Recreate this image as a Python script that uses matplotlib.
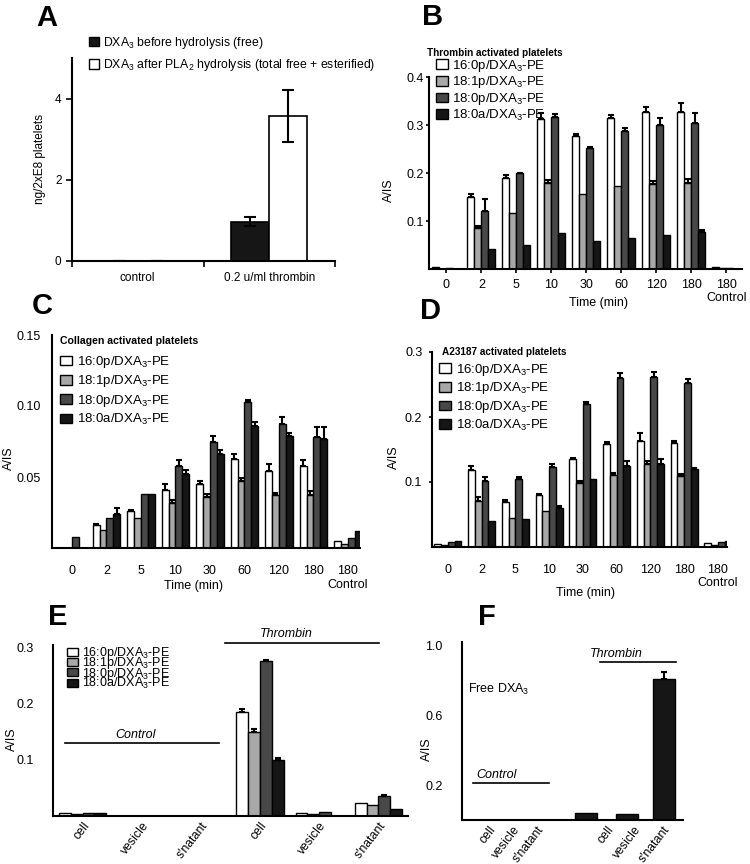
import numpy as np
import matplotlib.pyplot as plt
from matplotlib.patches import Patch

plt.rcParams['font.family'] = ['Liberation Sans', 'DejaVu Sans']
plt.rcParams['mathtext.default'] = 'regular'
plt.rcParams['axes.linewidth'] = 1.5

# ---- data ----
conditions = ['control', '0.2 u/ml thrombin']
a_free = [0, 0.97]
a_free_err = [0, 0.12]
a_total = [0, 3.57]
a_total_err = [0, 0.65]

times = ['0', '2', '5', '10', '30', '60', '120', '180', '180\nControl']
species = ['16:0p/DXA$_3$-PE', '18:1p/DXA$_3$-PE', '18:0p/DXA$_3$-PE', '18:0a/DXA$_3$-PE']

b_16_0p = [0.004, 0.149, 0.190, 0.312, 0.278, 0.314, 0.328, 0.328, 0.005]
b_16_0p_err = [0, 0.007, 0.006, 0.012, 0.004, 0.007, 0.010, 0.018, 0]
b_18_1p = [0.001, 0.085, 0.117, 0.180, 0.156, 0.172, 0.178, 0.180, 0.002]
b_18_1p_err = [0, 0.004, 0, 0.006, 0, 0, 0.005, 0.008, 0]
b_18_0p = [0.003, 0.121, 0.200, 0.316, 0.252, 0.288, 0.300, 0.305, 0.003]
b_18_0p_err = [0, 0.025, 0.001, 0.006, 0.003, 0.005, 0.015, 0.020, 0]
b_18_0a = [0.001, 0.042, 0.050, 0.076, 0.058, 0.064, 0.071, 0.077, 0.001]
b_18_0a_err = [0, 0, 0, 0, 0, 0, 0, 0.005, 0]

c_16_0p = [0, 0.016, 0.026, 0.041, 0.045, 0.063, 0.054, 0.058, 0.005]
c_16_0p_err = [0, 0.001, 0.001, 0.004, 0.002, 0.003, 0.005, 0.004, 0]
c_18_1p = [0, 0.013, 0.021, 0.032, 0.036, 0.047, 0.037, 0.037, 0.003]
c_18_1p_err = [0, 0, 0, 0.002, 0.002, 0.002, 0.002, 0.003, 0]
c_18_0p = [0.008, 0.021, 0.038, 0.058, 0.075, 0.103, 0.087, 0.078, 0.007]
c_18_0p_err = [0, 0, 0, 0.004, 0.004, 0.001, 0.005, 0.007, 0]
c_18_0a = [0, 0.024, 0.038, 0.052, 0.066, 0.086, 0.079, 0.077, 0.012]
c_18_0a_err = [0, 0.004, 0, 0.003, 0.003, 0.003, 0.002, 0.008, 0]

d_16_0p = [0.004, 0.118, 0.070, 0.080, 0.135, 0.158, 0.163, 0.160, 0.006]
d_16_0p_err = [0, 0.007, 0.003, 0.001, 0.002, 0.004, 0.012, 0.003, 0]
d_18_1p = [0.003, 0.071, 0.044, 0.055, 0.099, 0.111, 0.127, 0.110, 0.003]
d_18_1p_err = [0, 0.006, 0, 0, 0.003, 0.003, 0.006, 0.002, 0]
d_18_0p = [0.008, 0.102, 0.105, 0.123, 0.220, 0.260, 0.262, 0.252, 0.008]
d_18_0p_err = [0, 0.006, 0.002, 0.004, 0.003, 0.008, 0.008, 0.006, 0]
d_18_0a = [0.009, 0.040, 0.043, 0.060, 0.105, 0.124, 0.128, 0.120, 0.010]
d_18_0a_err = [0, 0, 0, 0.003, 0, 0.008, 0.008, 0.002, 0]

fractions = ['cell', 'vesicle', "s'natant", 'cell', 'vesicle', "s'natant"]
e_16_0p = [0.005, 0, 0, 0.185, 0.006, 0.024]
e_16_0p_err = [0, 0, 0, 0.006, 0, 0]
e_18_1p = [0.003, 0, 0, 0.149, 0.004, 0.020]
e_18_1p_err = [0, 0, 0, 0.006, 0, 0]
e_18_0p = [0.005, 0, 0, 0.276, 0.008, 0.035]
e_18_0p_err = [0, 0, 0, 0.003, 0, 0.002]
e_18_0a = [0.005, 0, 0, 0.099, 0, 0.013]
e_18_0a_err = [0, 0, 0, 0.004, 0, 0]

f_free = [0, 0, 0, 0.038, 0.034, 0.81]
f_free_err = [0, 0, 0, 0, 0, 0.04]

colors = ['white', '#a8a8a8', '#484848', '#161616']

fig = plt.figure(figsize=(7.5, 8.64), dpi=100)


def px_axes(l, t, r, b):
    ax = fig.add_axes([l / 750, 1 - b / 864, (r - l) / 750, (b - t) / 864])
    ax.spines['top'].set_visible(False)
    ax.spines['right'].set_visible(False)
    return ax


def up_err(ax, x, v, e):
    x, v, e = np.asarray(x), np.asarray(v), np.asarray(e)
    m = e > 0
    if m.any():
        ax.errorbar(x[m], v[m], yerr=[np.zeros(m.sum()), e[m]], fmt='none',
                    ecolor='black', elinewidth=1.5, capsize=2.5, capthick=1.5)


def grouped_bars(ax, vals, errs, width=0.2):
    x = np.arange(len(vals[0]))
    for k in range(4):
        off = (k - 1.5) * width
        ax.bar(x + off, vals[k], width, color=colors[k], edgecolor='black',
               linewidth=1, label=species[k])
        up_err(ax, x + off, vals[k], errs[k])
    return x


def species_legend(ax, x, y, spacing, hh=0.75, fs=9.5):
    ax.legend(loc='upper left', bbox_to_anchor=(x, y), frameon=False,
              borderpad=0, borderaxespad=0, handlelength=0.9, handleheight=hh,
              handletextpad=0.35, labelspacing=spacing, fontsize=fs)


def panel_letter(x, y, s):
    fig.text(x / 750, 1 - y / 864, s, fontsize=21, fontweight='bold',
             ha='center', va='center')


# ---- A ----
ax = px_axes(72, 58, 335, 261)
xa = np.arange(len(conditions)) + 0.5
w = 0.29
ax.bar(xa - w / 2, a_free, w, color='#161616', edgecolor='black', linewidth=1.2,
       yerr=a_free_err, error_kw=dict(elinewidth=1.5, capsize=4, capthick=1.5))
ax.bar(xa + w / 2, a_total, w, color='white', edgecolor='black', linewidth=1.2,
       yerr=a_total_err, error_kw=dict(elinewidth=1.5, capsize=4, capthick=1.5))
ax.set_xlim(0, 2)
ax.set_ylim(0, 5)
ax.set_yticks([0, 2, 4])
ax.set_xticks([0, 1, 2])
ax.set_xticklabels([])
ax.set_xticks(xa, minor=True)
ax.set_xticklabels(conditions, minor=True, fontsize=8.5)
ax.tick_params(axis='x', which='minor', length=0, pad=8)
ax.tick_params(axis='both', which='major', length=4, width=1.2, labelsize=8.5)
ax.set_ylabel('ng/2xE8 platelets', fontsize=8.5)
ax.yaxis.set_label_coords(-0.1, 0.5)
ax.legend(handles=[Patch(fc='#161616', ec='black', lw=1),
                   Patch(fc='white', ec='black', lw=1)],
          labels=['DXA$_3$ before hydrolysis (free)',
                  'DXA$_3$ after PLA$_2$ hydrolysis (total free + esterified)'],
          loc='upper left', bbox_to_anchor=(0.065, 1.115), frameon=False,
          borderpad=0, borderaxespad=0, handlelength=0.8, handleheight=0.8,
          handletextpad=0.3, labelspacing=0.55, fontsize=8.8)
panel_letter(47, 18, 'A')

# ---- B ----
ax = px_axes(429, 77, 742, 269)
grouped_bars(ax, [b_16_0p, b_18_1p, b_18_0p, b_18_0a],
             [b_16_0p_err, b_18_1p_err, b_18_0p_err, b_18_0a_err])
ax.set_xlim(-0.5, 8.45)
ax.set_ylim(0, 0.4)
ax.set_yticks([0.1, 0.2, 0.3, 0.4])
ax.set_xticks(np.arange(len(times)))
ax.set_xticklabels(times)
ax.get_xticklabels()[-1].set_linespacing(1.12)
ax.tick_params(axis='x', length=3, width=1.2, pad=4, labelsize=9)
ax.tick_params(axis='y', length=2, width=1.2, pad=2, labelsize=9)
ax.set_xlabel('Time (min)', fontsize=9)
ax.xaxis.set_label_coords(0.54, -0.148)
ax.set_ylabel('A/IS', fontsize=9)
ax.yaxis.set_label_coords(-0.11, 0.41)
ax.text(-0.005, 1.125, 'Thrombin activated platelets', transform=ax.transAxes,
        fontsize=7.2, fontweight='bold', ha='left', va='center')
species_legend(ax, 0.022, 1.1, 0.05)
panel_letter(433, 17, 'B')

# ---- C ----
ax = px_axes(52, 335, 360, 548)
grouped_bars(ax, [c_16_0p, c_18_1p, c_18_0p, c_18_0a],
             [c_16_0p_err, c_18_1p_err, c_18_0p_err, c_18_0a_err])
ax.set_xlim(-0.58, 8.35)
ax.set_ylim(0, 0.15)
ax.set_yticks([0.05, 0.10, 0.15])
ax.set_yticklabels(['0.05', '0.10', '0.15'])
ax.set_xticks(np.arange(len(times)))
ax.set_xticklabels(times)
ax.get_xticklabels()[-1].set_linespacing(1.3)
ax.tick_params(axis='x', length=0, pad=12, labelsize=9)
ax.tick_params(axis='y', length=0, pad=8, labelsize=9)
ax.set_xlabel('Time (min)', fontsize=9)
ax.xaxis.set_label_coords(0.46, -0.148)
ax.set_ylabel('A/IS', fontsize=9)
ax.yaxis.set_label_coords(-0.12, 0.42)
ax.text(0.026, 0.97, 'Collagen activated platelets', transform=ax.transAxes,
        fontsize=7.6, fontweight='bold', ha='left', va='center')
species_legend(ax, 0.026, 0.91, 0.25)
panel_letter(42, 306, 'C')

# ---- D ----
ax = px_axes(432, 352, 727, 547)
grouped_bars(ax, [d_16_0p, d_18_1p, d_18_0p, d_18_0a],
             [d_16_0p_err, d_18_1p_err, d_18_0p_err, d_18_0a_err])
ax.set_xlim(-0.47, 8.27)
ax.set_ylim(0, 0.3)
ax.set_yticks([0.1, 0.2, 0.3])
ax.set_xticks(np.arange(len(times)))
ax.set_xticklabels(times)
ax.get_xticklabels()[-1].set_linespacing(1.1)
ax.tick_params(axis='x', length=0, pad=12, labelsize=9)
ax.tick_params(axis='y', length=2, width=1.2, pad=5, labelsize=9)
ax.set_xlabel('Time (min)', fontsize=9)
ax.xaxis.set_label_coords(0.52, -0.205)
ax.set_ylabel('A/IS', fontsize=9)
ax.yaxis.set_label_coords(-0.11, 0.46)
ax.text(0.034, 1.0, 'A23187 activated platelets', transform=ax.transAxes,
        fontsize=7.2, fontweight='bold', ha='left', va='center')
species_legend(ax, 0.024, 0.95, 0.2)
panel_letter(430, 311, 'D')

# ---- E ----
ax = px_axes(53, 645, 408, 816)
xe = grouped_bars(ax, [e_16_0p, e_18_1p, e_18_0p, e_18_0a],
                  [e_16_0p_err, e_18_1p_err, e_18_0p_err, e_18_0a_err])
ax.set_xlim(-0.5, 5.5)
ax.set_ylim(0, 0.305)
ax.set_yticks([0.1, 0.2, 0.3])
ax.set_xticks(xe)
ax.set_xticklabels(fractions, rotation=52, ha='right', rotation_mode='anchor')
ax.tick_params(axis='x', length=0, pad=3, labelsize=8.8)
ax.tick_params(axis='y', length=0, pad=14, labelsize=9)
ax.set_ylabel('A/IS', fontsize=9)
ax.yaxis.set_label_coords(-0.1, 0.45)
species_legend(ax, 0.039, 1.0, -0.45, hh=0.6, fs=9)
ax.plot([0.034, 0.468], [0.427, 0.427], transform=ax.transAxes, color='black',
        lw=1.2, clip_on=False)
ax.text(0.231, 0.44, 'Control', transform=ax.transAxes, fontsize=9,
        style='italic', ha='center', va='bottom')
ax.plot([0.485, 0.918], [1.012, 1.012], transform=ax.transAxes, color='black',
        lw=1.2, clip_on=False)
ax.text(0.656, 1.03, 'Thrombin', transform=ax.transAxes, fontsize=9,
        style='italic', ha='center', va='bottom')
panel_letter(58, 617, 'E')

# ---- F ----
ax = px_axes(462, 642, 683, 820)
f_pos = [0, 0.8, 1.6, 3.3, 4.7, 5.95]
f_label_pos = [0.02, 0.83, 1.65, 4.0, 4.95, 5.9]
ax.bar(f_pos, f_free, 0.75, color='#161616', edgecolor='black', linewidth=1)
up_err(ax, f_pos, f_free, f_free_err)
ax.set_xlim(-0.9, 6.6)
ax.set_ylim(0, 1.02)
ax.set_yticks([0.2, 0.6, 1.0])
ax.set_xticks(f_label_pos)
ax.set_xticklabels(fractions, rotation=52, ha='right', rotation_mode='anchor')
ax.tick_params(axis='x', length=0, pad=3, labelsize=8.8)
ax.tick_params(axis='y', length=0, pad=14, labelsize=9)
ax.set_ylabel('A/IS', fontsize=9)
ax.yaxis.set_label_coords(-0.13, 0.4)
ax.text(0.027, 0.736, 'Free DXA$_3$', transform=ax.transAxes, fontsize=9,
        ha='left', va='center')
ax.plot([0.05, 0.394], [0.208, 0.208], transform=ax.transAxes, color='black',
        lw=1.2, clip_on=False)
ax.text(0.154, 0.22, 'Control', transform=ax.transAxes, fontsize=9,
        style='italic', ha='center', va='bottom')
ax.plot([0.624, 0.968], [0.888, 0.888], transform=ax.transAxes, color='black',
        lw=1.2, clip_on=False)
ax.text(0.70, 0.90, 'Thrombin', transform=ax.transAxes, fontsize=9,
        style='italic', ha='center', va='bottom')
panel_letter(487, 617, 'F')

fig.savefig('out.png', dpi=100)
